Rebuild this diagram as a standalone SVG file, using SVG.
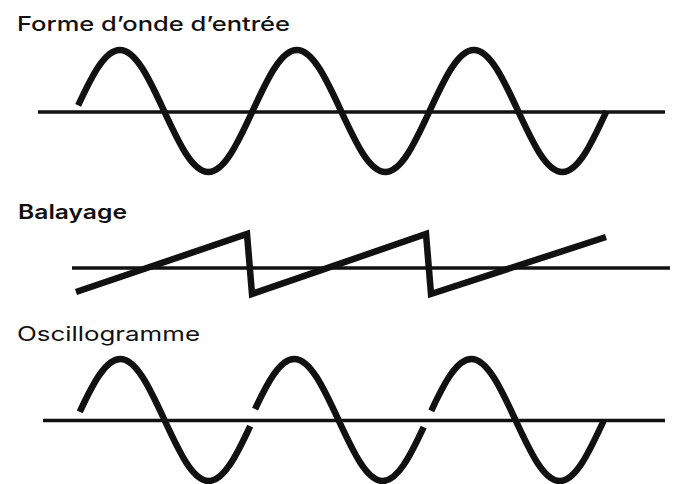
<svg xmlns="http://www.w3.org/2000/svg" width="679" height="484" viewBox="0 0 679 484">
  <style>
    .label { font-family: Inter, "Liberation Sans", Arial, sans-serif; font-size: 20px; fill: #111; }
    .axis { stroke: #111; stroke-width: 3.5; fill: none; }
    .trace { stroke: #111; stroke-width: 6.5; fill: none; stroke-linecap: butt; stroke-linejoin: miter; }
  </style>
  <rect width="679" height="484" fill="#fff"/>

  <g id="panel-input">
    <text class="label" x="17" y="31" font-weight="500" textLength="273" lengthAdjust="spacingAndGlyphs">Forme d’onde d’entrée</text>
    <line class="axis" x1="38" y1="112" x2="665" y2="112"/>
    <path class="trace" stroke-dasharray="3000 20" stroke-dashoffset="-6"
      d="M75.6,111
         c14.43,-31.25 28.24,-61 44.25,-61 c16.01,0 29.82,29.75 44.25,61 c14.43,31.25 28.24,61 44.25,61 c16.01,0 29.82,-29.75 44.25,-61
         c14.43,-31.25 28.24,-61 44.25,-61 c16.01,0 29.82,29.75 44.25,61 c14.43,31.25 28.24,61 44.25,61 c16.01,0 29.82,-29.75 44.25,-61
         c14.43,-31.25 28.24,-61 44.25,-61 c16.01,0 29.82,29.75 44.25,61 c14.43,31.25 28.24,61 44.25,61 c16.01,0 29.82,-29.75 44.25,-61"/>
  </g>

  <g id="panel-sweep">
    <text class="label" x="18" y="218.5" font-weight="600" textLength="109" lengthAdjust="spacingAndGlyphs">Balayage</text>
    <line class="axis" x1="72" y1="268" x2="670" y2="268"/>
    <polyline class="trace" points="76,292 247,234 252,294 426,234 431,294 606,237"/>
  </g>

  <g id="panel-oscillogram">
    <text class="label" x="17" y="341" font-weight="400" textLength="183" lengthAdjust="spacingAndGlyphs">Oscillogramme</text>
    <line class="axis" x1="43" y1="420.5" x2="665" y2="420.5"/>
    <path class="trace" pathLength="1000" stroke-dasharray="951 2000" stroke-dashoffset="-28"
      d="M76,420 c14.43,-31.25 28.24,-61 44.25,-61 c16.01,0 29.82,29.75 44.25,61 c14.43,31.25 28.24,61 44.25,61 c16.01,0 29.82,-29.75 44.25,-61"/>
    <path class="trace" pathLength="1000" stroke-dasharray="937 2000" stroke-dashoffset="-38"
      d="M250,420 c14.43,-31.25 28.24,-61 44.25,-61 c16.01,0 29.82,29.75 44.25,61 c14.43,31.25 28.24,61 44.25,61 c16.01,0 29.82,-29.75 44.25,-61"/>
    <path class="trace" pathLength="1000" stroke-dasharray="968 2000" stroke-dashoffset="-32"
      d="M427,420 c14.43,-31.25 28.24,-61 44.25,-61 c16.01,0 29.82,29.75 44.25,61 c14.43,31.25 28.24,61 44.25,61 c16.01,0 29.82,-29.75 44.25,-61"/>
  </g>
</svg>
